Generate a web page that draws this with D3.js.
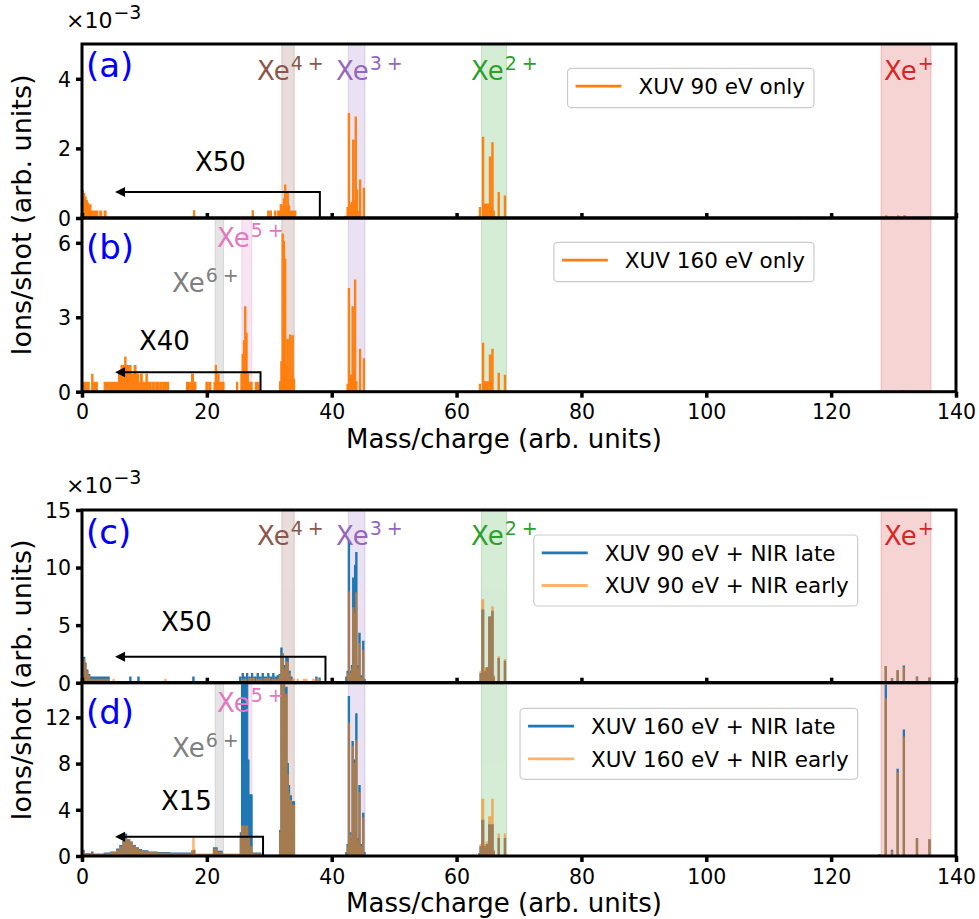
<!DOCTYPE html>
<html><head><meta charset="utf-8">
<script src="https://cdn.jsdelivr.net/npm/d3@7"></script>
<style>body{margin:0;background:#fff} text{font-family:"DejaVu Sans",sans-serif}</style>
</head><body><svg id="chart" width="979" height="919"></svg>
<script>
// ---------------- DATA ----------------
// Spectra are given as blocks [xStart, xEnd, value] on a 0.1-wide mass/charge grid (value in 1e-3 ions/shot); bins not listed are 0.
const binWidth = 0.1;
const xTickValues = [0, 20, 40, 60, 80, 100, 120, 140];
const yTicksA = [0, 2, 4];
const yTicksB = [0, 3, 6];
const yTicksC = [0, 5, 10, 15];
const yTicksD = [0, 4, 8, 12];
const yMax = [5, 7, 15, 15];
const panelLetters = ["(a)", "(b)", "(c)", "(d)"];
const multipliers = ["X50", "X40", "X50", "X15"];
// arrows: [x where bracket starts, level, x of arrow tip]
const arrowA = [38.1, 0.75, 5.3];
const arrowB = [28.6, 0.78, 5.3];
const arrowC = [39.0, 2.26, 5.3];
const arrowD = [29.0, 1.67, 5.3];

const legendA = ["XUV 90 eV only"];
const legendB = ["XUV 160 eV only"];
const legendC = ["XUV 90 eV + NIR late", "XUV 90 eV + NIR early"];
const legendD = ["XUV 160 eV + NIR late", "XUV 160 eV + NIR early"];

// charge-state windows: [name, superscript, m/q start, m/q end]
const ionWindows = [
  ["Xe", "+", 128, 136],
  ["Xe", "2+", 64, 68],
  ["Xe", "3+", 42.67, 45.33],
  ["Xe", "4+", 32, 34],
  ["Xe", "5+", 25.6, 27.2],
  ["Xe", "6+", 21.33, 22.67]
];

const xuv90Only = [
  [0.0,0.2,0.77],[0.3,0.4,0.7],[0.5,0.6,0.6],[0.7,0.8,0.5],[0.9,1.0,0.42],[1.1,1.2,0.33],[1.3,1.4,0.38],[1.5,1.6,0.2],[1.7,2.5,0.2],[2.9,3.1,0.2],[3.6,3.8,0.2],
  [17.9,18.0,0.21],[27.3,27.4,0.21],
  [29.8,29.9,0.2],[30.2,30.3,0.2],[30.9,31.0,0.2],[31.4,31.6,0.2],[31.8,32.0,0.38],[32.1,32.2,0.2],[32.3,32.4,0.55],[32.5,32.6,0.95],[32.7,32.8,0.3],[32.9,33.0,0.75],[33.1,33.2,0.35],[33.3,33.8,0.2],[34.1,34.2,0.2],
  [42.1,42.2,0.05],[42.5,42.6,0.3],[42.7,42.8,3.0],[42.9,43.1,0.4],[43.2,43.3,0.45],[43.4,43.5,2.24],[43.6,43.7,0.5],[43.8,43.9,2.9],[44.0,44.1,0.8],[44.2,44.3,0.2],[44.5,44.6,1.09],[45.1,45.2,0.85],
  [63.5,63.6,0.05],[63.7,63.8,0.3],[64.2,64.3,2.32],[64.4,64.6,0.4],[64.7,65.1,0.4],[65.3,65.4,1.75],[65.5,65.6,0.3],[65.7,65.8,2.16],[65.9,66.0,0.2],[66.7,66.8,0.73],[67.7,67.8,0.63],
  [115.0,115.0,0.03],[128.8,128.9,0.06],[129.8,129.8,0.04],[130.7,130.8,0.06],[131.7,131.8,0.07],[133.8,133.8,0.03],[135.8,135.8,0.03]
];

const xuv160Only = [
  [0.2,0.7,0.38],[0.9,1.1,0.38],[1.6,1.7,0.7],[1.8,2.4,0.38],[3.6,4.2,0.38],[4.4,5.1,0.38],[5.3,5.8,0.38],[5.9,6.2,0.7],[6.3,6.8,1.05],[6.9,7.0,1.4],[7.1,7.8,1.05],[7.9,8.3,0.7],[8.4,8.6,1.05],[8.7,9.0,0.7],[9.1,9.3,0.38],[9.4,9.6,0.7],[9.7,10.2,0.38],[10.3,10.4,0.7],[10.5,11.0,0.38],[11.3,11.6,0.38],[11.9,12.3,0.38],[12.6,12.8,0.38],[13.1,13.4,0.38],[13.6,13.8,0.38],
  [16.8,17.3,0.38],[17.6,17.8,0.7],[17.9,18.2,0.38],[19.9,20.1,0.38],[20.4,20.6,0.38],[21.2,21.3,0.38],[21.4,21.5,1.05],[21.6,21.7,0.38],[21.8,21.9,0.7],[22.0,22.7,0.38],[24.8,24.9,0.38],
  [25.5,25.6,0.7],[25.7,25.8,1.5],[25.9,26.0,2.05],[26.1,26.2,3.42],[26.3,26.4,2.35],[26.5,26.6,0.72],[26.7,27.2,0.38],[27.8,28.3,0.38],
  [31.7,31.8,0.4],[31.9,32.0,1.2],[32.1,32.2,6.35],[32.3,32.4,6.05],[32.5,32.6,5.35],[32.7,32.8,1.0],[32.9,33.0,2.1],[33.1,33.2,0.5],[33.3,33.4,2.28],[33.5,33.6,0.6],[33.7,33.8,2.25],[33.9,34.0,0.5],
  [42.5,42.6,0.3],[42.7,42.8,4.16],[42.9,43.2,0.67],[43.3,43.4,3.42],[43.5,43.6,0.8],[43.7,43.8,4.5],[43.9,44.0,0.4],[44.5,44.6,1.71],[45.1,45.2,1.33],
  [63.7,63.8,0.3],[64.2,64.3,1.95],[64.4,65.1,0.4],[65.3,65.4,1.48],[65.5,65.6,0.4],[65.7,65.8,1.71],[66.7,66.8,0.74],[67.7,67.8,0.66],
  [131.5,131.6,0.05]
];

const xuv90Late = [
  [0.0,0.2,2.0],[0.3,0.4,2.2],[0.5,0.6,1.7],[0.7,0.9,1.1],[1.0,1.2,0.7],[1.3,4.3,0.5],[7.7,7.8,0.5],[9.0,9.1,0.5],[17.8,17.9,0.5],
  [25.3,25.4,0.5],[25.7,25.8,0.8],[26.0,26.1,0.5],[26.4,26.5,0.8],[26.8,26.9,0.5],[27.2,27.3,0.8],[27.6,27.8,0.5],[28.1,28.2,0.8],[28.5,28.6,0.5],[28.9,29.0,0.8],[29.3,29.5,0.5],[29.8,29.9,0.8],[30.2,30.3,0.5],[30.6,30.7,0.8],[31.0,31.1,0.5],[31.3,31.4,0.6],
  [31.6,31.8,0.7],[31.9,32.0,3.0],[32.1,32.2,2.5],[32.3,32.4,1.5],[32.5,32.6,1.2],[32.7,32.8,2.2],[32.9,33.0,2.1],[33.1,33.3,1.0],[33.4,33.6,0.5],[37.5,37.6,0.5],[38.0,38.1,0.4],
  [42.3,42.4,0.5],[42.5,42.6,1.0],[42.7,42.8,12.3],[42.9,43.1,1.0],[43.2,43.3,1.5],[43.4,43.5,9.1],[43.6,43.6,2.0],[43.7,43.8,10.2],[43.9,44.0,11.3],[44.1,44.2,1.5],[44.3,44.3,1.0],[44.4,44.5,4.3],[44.6,44.9,0.6],[45.0,45.1,3.6],[45.2,45.3,0.3],
  [63.8,64.0,0.8],[64.1,64.3,6.3],[64.4,64.6,1.0],[64.8,64.9,1.3],[65.2,65.4,5.7],[65.5,65.6,1.2],[65.7,65.8,6.2],[65.9,66.0,0.5],[66.7,66.8,2.1],[67.7,67.8,1.85],
  [128.7,128.8,1.4],[129.7,129.8,0.35],[130.6,130.7,1.05],[131.6,131.7,1.45],[133.7,133.8,0.48],[135.7,135.8,0.4]
];

const xuv90Early = [
  [0.0,0.2,1.9],[0.3,0.4,2.0],[0.5,0.6,1.6],[0.7,0.9,1.0],[1.0,1.2,0.6],[1.3,2.0,0.3],[2.3,4.3,0.3],[5.0,5.1,0.3],[13.3,13.4,0.3],
  [25.6,26.3,0.3],[26.8,27.6,0.35],[28.0,28.8,0.3],[29.2,30.0,0.35],[30.4,31.4,0.3],
  [31.6,31.8,0.6],[31.9,32.0,2.3],[32.1,32.2,2.5],[32.3,32.6,1.2],[32.7,32.8,1.8],[32.9,33.0,1.8],[33.1,33.3,0.8],[33.4,34.0,0.3],[34.5,34.6,0.3],[35.5,36.0,0.3],[37.0,38.0,0.3],
  [42.5,42.6,0.8],[42.7,42.8,7.9],[42.9,43.1,0.8],[43.2,43.3,1.2],[43.4,43.5,6.5],[43.6,43.6,1.5],[43.7,43.8,6.0],[43.9,44.0,7.8],[44.1,44.2,1.2],[44.4,44.5,3.4],[44.6,44.9,0.4],[45.0,45.1,2.8],
  [63.8,64.0,1.0],[64.1,64.3,7.2],[64.4,64.6,1.2],[64.8,64.9,1.3],[65.2,65.4,5.7],[65.5,65.6,1.2],[65.7,65.8,6.6],[65.9,66.0,0.6],[66.7,66.8,2.26],[67.7,67.8,2.0],
  [128.7,128.8,1.4],[129.7,129.8,0.35],[130.6,130.7,1.05],[131.6,131.7,1.3],[133.7,133.8,0.48],[135.7,135.8,0.4]
];

const xuv160Late = [
  [0.0,0.3,0.5],[0.4,1.5,0.2],[1.6,1.7,0.35],[1.8,3.5,0.15],[3.6,4.5,0.25],[4.6,5.5,0.35],[5.6,6.0,0.6],[6.1,6.5,0.9],[6.6,6.9,1.3],[7.0,7.1,1.9],[7.2,7.6,1.4],[7.7,8.0,1.2],[8.1,8.5,0.9],[8.6,9.0,0.7],[9.1,9.5,0.55],[9.6,10.5,0.45],[10.6,12.0,0.35],[12.1,14.0,0.3],[14.1,17.5,0.25],[17.6,17.8,0.4],[17.9,18.0,0.5],[18.1,21.0,0.15],
  [21.1,21.6,0.7],[21.7,22.4,0.4],[22.5,25.3,0.15],[25.4,25.5,2.0],[25.6,26.5,16],[26.6,26.7,8.3],[26.8,27.2,5.3],[27.3,28.6,0.25],[28.7,31.5,0.05],
  [31.7,31.8,2.2],[31.9,32.4,16],[32.5,32.8,14.6],[32.9,33.0,8],[33.1,33.2,6.1],[33.3,33.3,2.0],[33.4,33.5,5.2],[33.6,34.0,4.7],
  [42.3,42.4,0.3],[42.5,42.6,1.0],[42.7,42.8,13.8],[42.9,43.0,2.0],[43.1,43.2,1.5],[43.3,43.4,9.9],[43.5,43.6,8.3],[43.7,43.8,2.0],[43.9,44.0,12.3],[44.1,44.2,1.5],[44.3,44.3,1.0],[44.4,44.5,6.1],[44.6,44.9,1.0],[45.0,45.1,3.7],[45.2,45.3,0.3],
  [55.0,62.0,0.04],
  [63.6,63.7,0.2],[63.8,64.0,0.8],[64.1,64.3,3.1],[64.4,64.6,0.8],[64.8,64.9,1.0],[65.2,65.4,2.7],[65.5,65.6,1.0],[65.7,65.8,2.7],[65.9,66.0,0.4],[66.7,66.8,1.5],[67.7,67.8,1.5],
  [127.7,127.8,0.1],[128.7,128.8,14.8],[129.7,129.8,0.5],[130.6,130.7,7.5],[131.6,131.7,10.9],[133.7,133.8,1.5],[135.7,135.8,1.4]
];

const xuv160Early = [
  [0.0,0.3,0.4],[0.4,4.5,0.2],[4.6,5.5,0.3],[5.6,6.0,0.5],[6.1,6.5,0.8],[6.6,6.9,1.2],[7.0,7.6,1.45],[7.7,8.0,1.15],[8.1,8.5,0.85],[8.6,9.0,0.65],[9.1,9.5,0.5],[9.6,10.5,0.4],[10.6,12.0,0.3],[12.1,14.0,0.25],[14.1,17.5,0.2],[17.6,17.7,0.5],[17.8,17.9,1.55],[18.0,18.1,0.5],[18.2,21.0,0.12],
  [21.1,21.6,0.6],[21.7,22.4,0.3],[22.5,25.3,0.12],[25.4,25.5,1.5],[25.6,25.9,2.6],[26.0,26.1,2.0],[26.2,26.5,2.6],[26.6,26.8,1.6],[26.9,27.2,0.8],[27.3,28.6,0.2],[28.7,31.5,0.05],
  [31.7,31.8,2.0],[31.9,32.4,16],[32.5,32.8,14.0],[32.9,33.0,7],[33.1,33.2,5.4],[33.3,33.3,1.8],[33.4,33.5,4.8],[33.6,34.0,4.4],
  [42.5,42.6,0.8],[42.7,42.8,11.5],[42.9,43.0,1.8],[43.1,43.2,1.3],[43.3,43.4,9.5],[43.5,43.6,8.0],[43.7,43.8,1.8],[43.9,44.0,10.0],[44.1,44.2,1.3],[44.4,44.5,5.5],[44.6,44.9,0.8],[45.0,45.1,3.3],
  [63.8,64.0,1.0],[64.1,64.3,4.9],[64.4,64.6,1.0],[64.8,64.9,1.2],[65.2,65.4,3.4],[65.5,65.6,1.2],[65.7,65.8,4.9],[65.9,66.0,0.5],[66.7,66.8,1.9],[67.7,67.8,1.9],
  [128.7,128.8,13.6],[129.7,129.8,0.4],[130.6,130.7,7.2],[131.6,131.7,10.3],[133.7,133.8,1.5],[135.7,135.8,1.4]
];

// ---------------- DRAWING ----------------
const C_BLUE = "#1f77b4", C_ORANGE = "#ff7f0e";
const windowColors = {"+":"#d62728","2+":"#2ca02c","3+":"#9467bd","4+":"#8c564b","5+":"#e377c2","6+":"#7f7f7f"};
const FONT = "DejaVu Sans";

function expand(blocks) {
  const n = Math.round(140 / binWidth) + 1;
  const v = new Array(n).fill(0);
  blocks.forEach(([a, b, val]) => {
    for (let i = Math.round(a / binWidth); i <= Math.round(b / binWidth); i++) v[i] = Math.max(v[i], val);
  });
  return v.map((val, i) => ({x: i * binWidth, y: val}));
}

const svg = d3.select("#chart");
const x = d3.scaleLinear().domain([0, 140]).range([82, 956]);

const panels = [
  {top: 44, bottom: 218, yticks: yTicksA, xLabels: false,
   windows: ["+","2+","3+","4+"], series: [{d: xuv90Only, c: C_ORANGE, o: 1}],
   legend: {names: legendA, colors: [[C_ORANGE,1]], right: 814, top: 68.3},
   arrow: arrowA, mult: {x: 195, y: 170.7},
   labels: {"4+":[257,80], "3+":[336,80], "2+":[471,80], "+":[884,80]}, letterY: 77},
  {top: 218, bottom: 391.7, yticks: yTicksB, xLabels: true,
   windows: ["+","2+","3+","4+","5+","6+"], series: [{d: xuv160Only, c: C_ORANGE, o: 1}],
   legend: {names: legendB, colors: [[C_ORANGE,1]], right: 814, top: 242.3},
   arrow: arrowB, mult: {x: 139, y: 350},
   labels: {"5+":[217,246.7], "6+":[172,291.7]}, letterY: 258.8},
  {top: 510, bottom: 682.7, yticks: yTicksC, xLabels: false,
   windows: ["+","2+","3+","4+"], series: [{d: xuv90Late, c: C_BLUE, o: 1}, {d: xuv90Early, c: C_ORANGE, o: 0.6}],
   legend: {names: legendC, colors: [[C_BLUE,1],[C_ORANGE,0.6]], right: 857.7, top: 535},
   arrow: arrowC, mult: {x: 161, y: 630.7},
   labels: {"4+":[257,545], "3+":[336,545], "2+":[471,545], "+":[884,545]}, letterY: 543.5},
  {top: 682.7, bottom: 856, yticks: yTicksD, xLabels: true,
   windows: ["+","2+","3+","4+","5+","6+"], series: [{d: xuv160Late, c: C_BLUE, o: 1}, {d: xuv160Early, c: C_ORANGE, o: 0.6}],
   legend: {names: legendD, colors: [[C_BLUE,1],[C_ORANGE,0.6]], right: 857.7, top: 708.3},
   arrow: arrowD, mult: {x: 161, y: 810},
   labels: {"5+":[217,711.7], "6+":[172,756.7]}, letterY: 723.5}
];

const defs = svg.append("defs");

panels.forEach((p, pi) => {
  const y = d3.scaleLinear().domain([0, yMax[pi]]).range([p.bottom, p.top]);
  const g = svg.append("g");
  const clipId = "clip" + pi;
  defs.append("clipPath").attr("id", clipId).append("rect")
    .attr("x", x(0)).attr("y", p.top).attr("width", x(140) - x(0)).attr("height", p.bottom - p.top);
  const inner = g.append("g").attr("clip-path", `url(#${clipId})`);

  // charge-state windows
  ionWindows.filter(w => p.windows.includes(w[1])).forEach(w => {
    const col = windowColors[w[1]];
    inner.append("rect").attr("x", x(w[2])).attr("y", p.top).attr("width", x(w[3]) - x(w[2])).attr("height", p.bottom - p.top)
      .attr("fill", col).attr("fill-opacity", 0.2).attr("stroke", col).attr("stroke-opacity", 0.2).attr("stroke-width", 1.2);
  });

  // spectra
  p.series.forEach(s => {
    const pts = expand(s.d);
    const sg = inner.append("g").attr("opacity", s.o);
    sg.append("path").datum(pts)
      .attr("d", d3.area().x(d => x(d.x)).y0(y(0)).y1(d => y(d.y)).curve(d3.curveStep))
      .attr("fill", s.c);
    sg.append("path").datum(pts)
      .attr("d", d3.line().x(d => x(d.x)).y(d => y(d.y)).curve(d3.curveStep))
      .attr("fill", "none").attr("stroke", s.c).attr("stroke-width", 1.1).attr("stroke-linejoin", "miter");
  });

  // window labels
  ionWindows.filter(w => p.labels[w[1]]).forEach(w => {
    const [lx, ly] = p.labels[w[1]];
    const t = g.append("text").attr("x", lx).attr("y", ly).attr("fill", windowColors[w[1]])
      .style("font-family", FONT).style("font-size", "26px");
    t.append("tspan").text(w[0]);
    if (w[1] === "+") {
      t.append("tspan").attr("dy", -10).attr("dx", 1).style("font-size", "19px").text("+");
    } else {
      t.append("tspan").attr("dy", -10).attr("dx", 1).style("font-size", "19px").text(w[1][0]);
      t.append("tspan").attr("dx", 5).style("font-size", "19px").text("+");
    }
  });

  // y axis
  const ya = g.append("g").attr("transform", `translate(${x(0)},0)`)
    .call(d3.axisLeft(y).tickValues(p.yticks).tickFormat(d3.format("d")).tickSize(6).tickPadding(5));
  ya.select(".domain").remove();
  ya.selectAll(".tick line").attr("stroke", "#000").attr("stroke-width", 3.5);
  ya.selectAll(".tick text").style("font-family", FONT).style("font-size", "20.5px").attr("fill", "#000").attr("dy", "0.36em");

  // x axis
  const xa = g.append("g").attr("transform", `translate(0,${p.bottom})`)
    .call(d3.axisBottom(x).tickValues(xTickValues).tickSize(p.xLabels ? 6 : -5).tickPadding(7)
      .tickFormat(p.xLabels ? d3.format("d") : () => ""));
  xa.select(".domain").remove();
  xa.selectAll(".tick line").attr("stroke", "#000").attr("stroke-width", 3.5);
  xa.selectAll(".tick text").style("font-family", FONT).style("font-size", "20.5px").attr("fill", "#000");

  // frame
  g.append("rect").attr("x", x(0)).attr("y", p.top).attr("width", x(140) - x(0)).attr("height", p.bottom - p.top)
    .attr("fill", "none").attr("stroke", "#000").attr("stroke-width", 3);

  // arrow with bracket
  const [ax0, alev, atip] = p.arrow;
  const ay = y(alev);
  g.append("path").attr("d", `M${x(ax0)},${y(0)}V${ay}H${x(atip) + 8}`)
    .attr("fill", "none").attr("stroke", "#000").attr("stroke-width", 2);
  g.append("path").attr("d", `M${x(atip)},${ay}L${x(atip) + 10},${ay - 5}L${x(atip) + 10},${ay + 5}Z`).attr("fill", "#000");
  g.append("text").attr("x", p.mult.x).attr("y", p.mult.y).style("font-family", FONT).style("font-size", "26px")
    .attr("fill", "#000").text(multipliers[pi]);

  // panel letter
  g.append("text").attr("x", 86).attr("y", p.letterY).style("font-family", FONT).style("font-size", "34px")
    .attr("fill", "#0000ff").text(panelLetters[pi]);

  // legend
  const L = p.legend;
  const lg = g.append("g");
  const texts = L.names.map((n, i) => lg.append("text").style("font-family", FONT).style("font-size", "21.5px").attr("fill", "#000").text(n));
  const tw = d3.max(texts, t => t.node().getComputedTextLength());
  const left = L.right - (tw + 71 + 9);
  const h = L.names.length === 1 ? 39.4 : 71;
  lg.insert("rect", ":first-child").attr("x", left).attr("y", L.top).attr("width", L.right - left).attr("height", h)
    .attr("rx", 4).attr("fill", "#fff").attr("fill-opacity", 0.8).attr("stroke", "#cccccc").attr("stroke-width", 1.2);
  texts.forEach((t, i) => {
    const cy = L.top + 17.8 + i * 32.7;
    t.attr("x", left + 71).attr("y", cy + 7.8);
    lg.append("line").attr("x1", left + 8).attr("x2", left + 54).attr("y1", cy).attr("y2", cy)
      .attr("stroke", L.colors[i][0]).attr("stroke-opacity", L.colors[i][1]).attr("stroke-width", 2.8);
  });
});

// offset texts (×10^-3)
[28.3, 493.3].forEach(by => {
  const t = svg.append("text").attr("x", 66).attr("y", by).style("font-family", FONT).style("font-size", "22px").attr("fill", "#000");
  t.append("tspan").text("×10");
  t.append("tspan").attr("dy", -9).attr("dx", 1).style("font-size", "19px").text("−3");
});

// axis titles
[448, 912].forEach(by => {
  svg.append("text").attr("x", 504).attr("y", by).attr("text-anchor", "middle")
    .style("font-family", FONT).style("font-size", "26px").attr("fill", "#000").text("Mass/charge (arb. units)");
});
[215, 680].forEach(cy => {
  svg.append("text").attr("transform", `translate(31,${cy}) rotate(-90)`).attr("text-anchor", "middle")
    .style("font-family", FONT).style("font-size", "27px").attr("fill", "#000").text("Ions/shot (arb. units)");
});
</script>
</body></html>
